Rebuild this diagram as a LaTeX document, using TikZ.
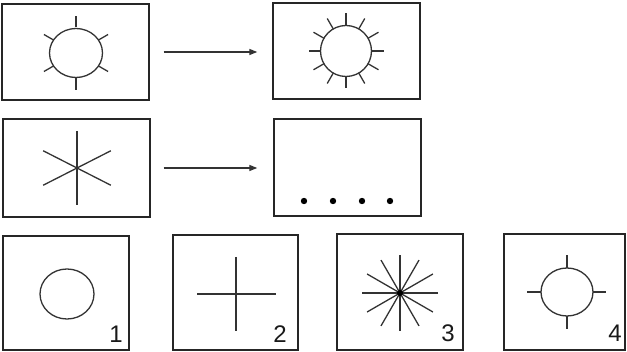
\documentclass[tikz,border=0pt]{standalone}
\usepackage{fontspec}
\setmainfont{Liberation Sans}
\usetikzlibrary{arrows.meta,calc}
\begin{document}
\begin{tikzpicture}[x=1pt,y=-1pt,
  frame/.style={draw=black!85,line width=1.4pt,inner sep=0pt,rectangle},
  ln/.style={draw=black!80,line width=1.3pt},
  arr/.style={draw=black!80,line width=1.3pt,-{Triangle[length=8pt,width=6pt]}},
  num/.style={font=\fontsize{24}{26}\selectfont,inner sep=0pt,text=black!90},
  dotf/.style={fill=black}]
\useasboundingbox (0,0) rectangle (627,352);
% frames
\node[frame,minimum width=147pt,minimum height=96pt] (A) at (75.5,52) {};
\node[frame,minimum width=147pt,minimum height=96pt] (B) at (346.5,51) {};
\node[frame,minimum width=147pt,minimum height=98pt] (C) at (76.5,168) {};
\node[frame,minimum width=147pt,minimum height=97pt] (D) at (347.5,167.5) {};
\node[frame,minimum width=126pt,minimum height=114pt] (F1) at (66,293) {};
\node[frame,minimum width=125pt,minimum height=115pt] (F2) at (235.5,292.5) {};
\node[frame,minimum width=126pt,minimum height=116pt] (F3) at (400,292) {};
\node[frame,minimum width=121pt,minimum height=116pt] (F4) at (564.5,292) {};
% arrows
\draw[arr] ([xshift=14pt]A.east) -- ([xshift=-15pt]B.west |- A.east);
\draw[arr] ([xshift=13pt]C.east) -- ([xshift=-16pt]D.west |- C.east);
% sun A
\coordinate (sa) at (76,53);
\draw[ln] (sa) ellipse (26.5 and 24.5);
\foreach \a in {30,90,150,210,270,330}
  \draw[ln] ($(sa)+(\a:25.5)$) -- ($(sa)+(\a:37)$);
% sun B
\coordinate (sb) at (346,51);
\draw[ln] (sb) circle (25.5);
\foreach \a in {0,30,...,330}
  \draw[ln] ($(sb)+(\a:25.5)$) -- ($(sb)+(\a:37.5)$);
% asterisk C
\coordinate (sc) at (77,168);
\draw[ln] ($(sc)+(0,-37)$) -- ($(sc)+(0,37)$);
\draw[ln] ($(sc)+(153:38)$) -- ($(sc)+(-27:38)$);
\draw[ln] ($(sc)+(207:38)$) -- ($(sc)+(27:38)$);
% dots D
\foreach \x in {304,333,362,390}
  \fill[dotf] (\x,201) circle (3.2);
% option 1
\draw[ln] (67,294) ellipse (27 and 25);
\node[num] (n1) at (116,334) {1};
% option 2
\draw[ln] (197,294) -- (276,294);
\draw[ln] (236,257) -- (236,331);
\node[num] (n2) at (280,334) {2};
% option 3
\coordinate (s3) at (400,293);
\foreach \a in {0,30,...,150}
  \draw[ln] ($(s3)+(\a:38)$) -- ($(s3)+(\a+180:38)$);
\fill[dotf] (s3) circle (3);
\node[num] (n3) at (448,333) {3};
% option 4
\coordinate (s4) at (567,292);
\draw[ln] (s4) ellipse (26 and 24);
\draw[ln] (567,268) -- (567,255);
\draw[ln] (567,316) -- (567,329);
\draw[ln] (541,292) -- (527,292);
\draw[ln] (593,292) -- (606,292);
\node[num] (n4) at (615,333) {4};
\end{tikzpicture}
\end{document}
